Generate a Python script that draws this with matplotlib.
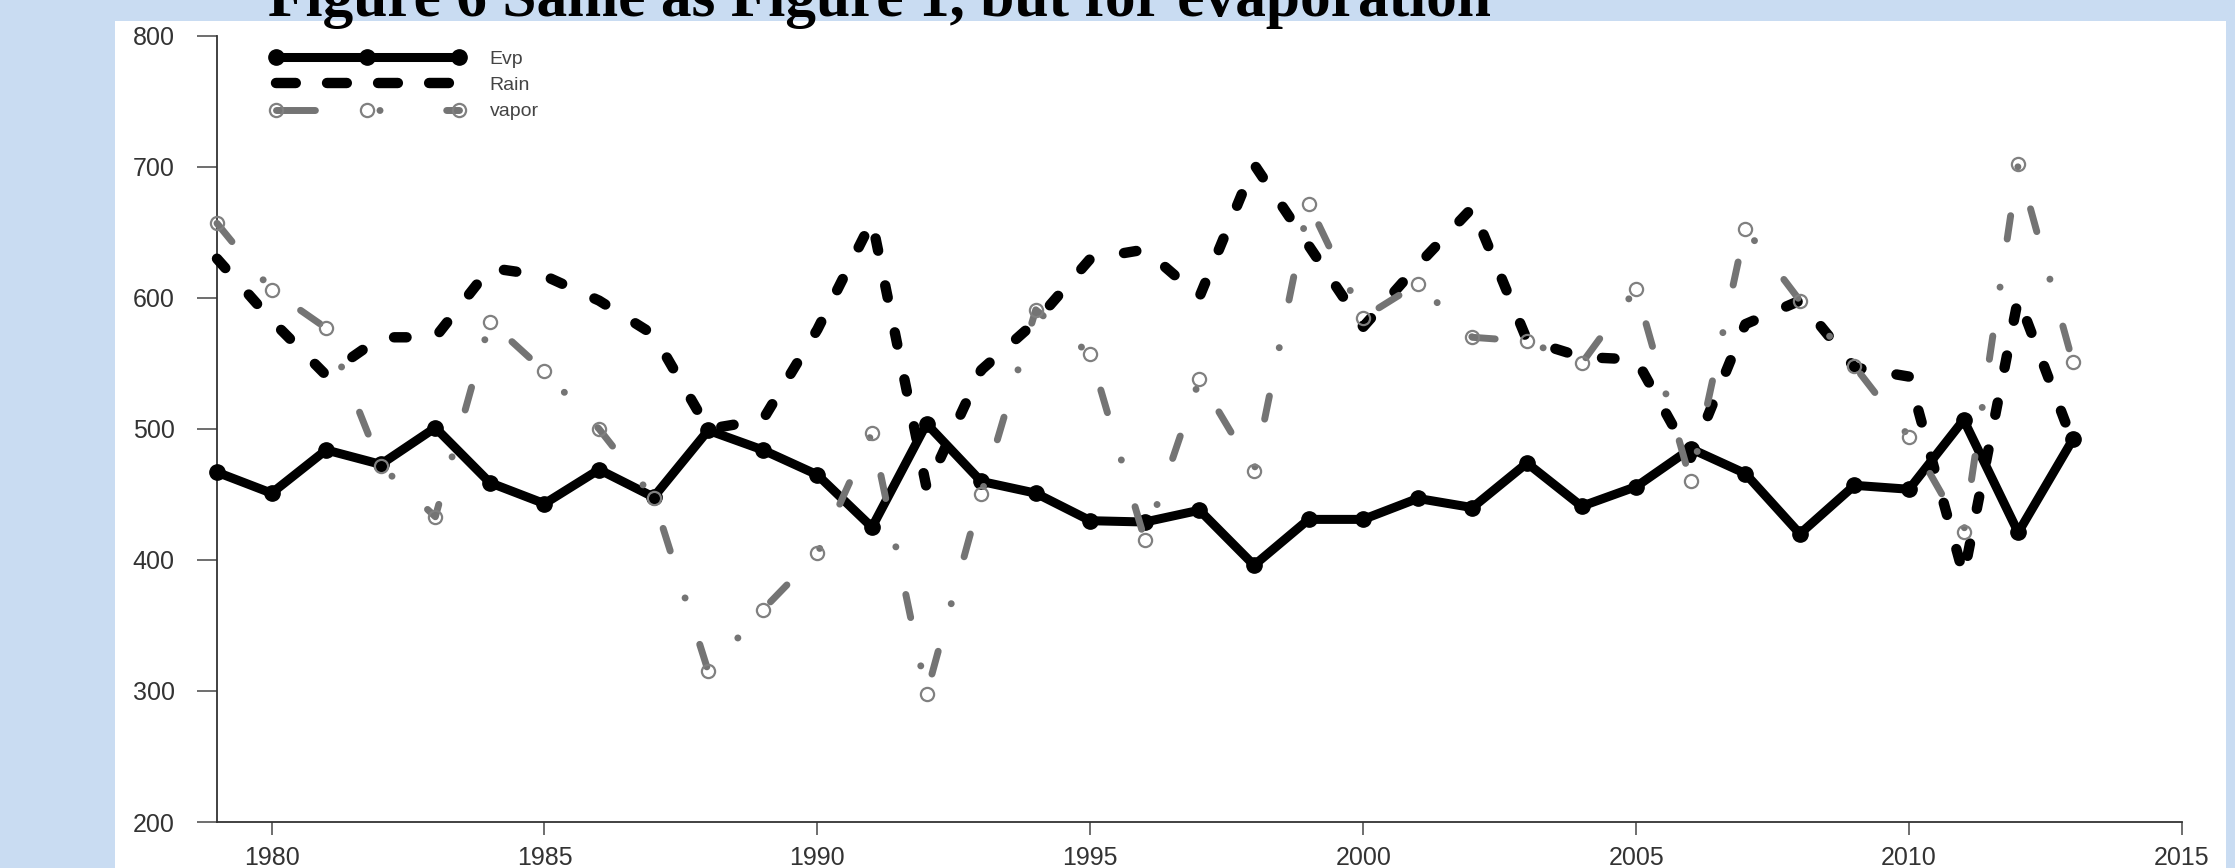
import matplotlib
matplotlib.use('Agg')
import matplotlib.pyplot as plt
from matplotlib.lines import Line2D
from matplotlib.patches import Rectangle

# ---------------- data ----------------
years = list(range(1979, 2014))
evp = [467, 451, 484, 473, 501, 459, 443, 469, 448, 499, 484, 465, 425, 504,
       460, 451, 430, 429, 438, 396, 431, 431, 447, 440, 474, 441, 456, 485,
       466, 420, 457, 454, 507, 421, 492]
rain = [630, 583, 541, 570, 570, 623, 617, 598, 572, 500, 507, 576, 659, 455,
        545, 582, 630, 637, 601, 702, 640, 578, 625, 669, 568, 555, 553, 478,
        580, 598, 547, 540, 388, 600, 490]
vapor = [657, 606, 577, 472, 433, 582, 544, 500, 447, 315, 362, 405, 497, 298,
         450, 591, 557, 415, 538, 468, 672, 585, 611, 570, 567, 550, 607, 460,
         653, 598, 548, 494, 421, 702, 551]
series_labels = ['Evp', 'Rain', 'vapor']
x_ticks = [1980, 1985, 1990, 1995, 2000, 2005, 2010, 2015]
y_ticks = [200, 300, 400, 500, 600, 700, 800]
title = "Figure 6 Same as Figure 1, but for evaporation"

# ---------------- figure ----------------
W, H, DPI = 2235, 868, 100
fig = plt.figure(figsize=(W / DPI, H / DPI), dpi=DPI)
fig.patch.set_facecolor('#c9dcf2')

# white plot panel on the blue slide background
fig.add_artist(Rectangle((115 / W, 0), (2226 - 115) / W, (H - 21) / H,
                         transform=fig.transFigure, facecolor='white',
                         edgecolor='none', zorder=0))

ax = fig.add_axes([217 / W, 1 - 822 / H, (2182 - 217) / W, (822 - 36) / H])
ax.set_facecolor('none')
ax.set_xlim(1979, 2015)
ax.set_ylim(200, 800)
ax.set_xticks(x_ticks)
ax.set_yticks(y_ticks)
for s in ['top', 'right']:
    ax.spines[s].set_visible(False)
for s in ['left', 'bottom']:
    ax.spines[s].set_color('#333333')
    ax.spines[s].set_linewidth(1.3)
ax.tick_params(axis='y', length=14.4, width=1.2, pad=16, labelsize=18,
               color='#555555', labelcolor='#333333')
ax.tick_params(axis='x', length=9.4, width=1.2, pad=8, labelsize=18,
               color='#555555', labelcolor='#333333')
for lab in ax.get_xticklabels() + ax.get_yticklabels():
    lab.set_family(['Liberation Sans', 'DejaVu Sans'])

# ---------------- series ----------------
ax.plot(years, evp, color='black', lw=6.5, marker='o', ms=11,
        solid_joinstyle='round', solid_capstyle='round',
        clip_on=False, zorder=3)
ax.plot(years, rain, color='black', lw=7.5, linestyle=(0, (1.2, 3.4)),
        dash_capstyle='round', dash_joinstyle='round',
        clip_on=False, zorder=4)
ax.plot(years, vapor, color='#747474', lw=5, linestyle=(0, (3.4, 7.1, 0.01, 7.0)),
        dash_capstyle='round', dash_joinstyle='round',
        marker='o', ms=9.5, mfc='none', mec='#808080', mew=1.6,
        clip_on=False, zorder=5)

# ---------------- legend ----------------
h_evp = Line2D([], [], color='black', lw=6.5, marker='o', ms=11,
               solid_capstyle='round')
h_rain = Line2D([], [], color='black', lw=7.5, linestyle=(0, (1.9, 3.0)),
                dash_capstyle='round')
h_vap = Line2D([], [], color='#747474', lw=5, linestyle=(0, (5.6, 9.3, 0.01, 9.6)),
               dash_capstyle='round', marker='o', ms=9.5, mfc='none',
               mec='#808080', mew=1.6)
leg = ax.legend([h_evp, h_rain, h_vap], series_labels, loc='upper left',
                bbox_to_anchor=((270 - 217) / 1965, (822 - 50) / 786),
                frameon=False, handlelength=10.0,
                handletextpad=1.3, labelspacing=0.45, borderpad=0,
                borderaxespad=0, numpoints=3, labelcolor='#444444',
                prop={'family': ['Liberation Sans', 'DejaVu Sans'], 'size': 14})

# ---------------- title (cut at top edge) ----------------
t = fig.text(268 / W, (H - 16) / H, title, ha='left', va='baseline',
             fontsize=40, fontweight='bold',
             family=['Liberation Serif', 'DejaVu Serif'], color='black')
fig.canvas.draw()
bb = t.get_window_extent()
t.set_fontsize(40 * 1221 / bb.width)

fig.savefig('out.png', dpi=DPI, facecolor=fig.get_facecolor())
